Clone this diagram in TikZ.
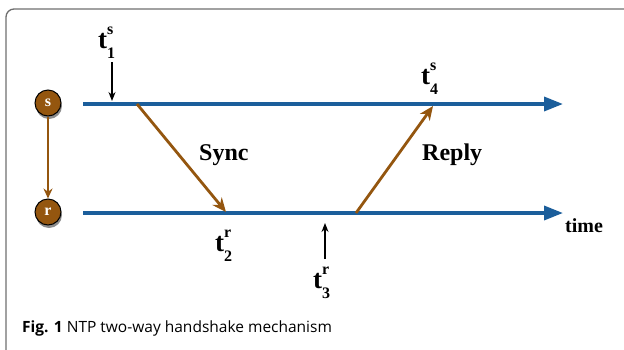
\documentclass[tikz,border=0pt]{standalone}
\usepackage{fontspec}
\setmainfont{Liberation Serif}
\newfontfamily\capfont{Open Sans}
\usetikzlibrary{arrows.meta,shadows}
\definecolor{tblue}{HTML}{1B5E9B}
\definecolor{tbrown}{HTML}{94560F}
\definecolor{framegray}{HTML}{6E6E6E}
\newcommand{\tlab}[2]{\fontsize{27}{27}\selectfont\textbf{t}\makebox[0pt][l]{\raisebox{0.50em}{\fontsize{16}{16}\selectfont\textbf{#1}}}\raisebox{-0.38em}{\fontsize{16}{16}\selectfont\textbf{#2}}}
\tikzset{
  timeline/.style={tblue, line width=3.5pt, -{Triangle[length=19pt,width=14pt]}},
  msg/.style={tbrown, line width=2.8pt, -{Stealth[length=14pt,width=12pt]}},
  tickarrow/.style={black, line width=1.4pt, -{Stealth[length=9pt,width=7pt]}},
  host/.style={circle, draw=black, line width=1pt, fill=tbrown, minimum size=26pt, inner sep=0pt,
    text=white, font=\fontsize{16}{16}\selectfont\bfseries,
    drop shadow={shadow xshift=1pt, shadow yshift=-3pt, opacity=0.45, fill=black}},
  tl/.style={anchor=base west, inner sep=0pt},
  lbl/.style={font=\fontsize{24}{24}\selectfont\bfseries, inner sep=0pt},
}
\begin{document}
\begin{tikzpicture}[x=1pt,y=-1pt]
\useasboundingbox (0,0) rectangle (624,349);
\begin{scope}
\clip (0,0) rectangle (624,349);
\draw[framegray, line width=1.3pt, rounded corners=8pt] (6,9) rectangle (660,380);
\end{scope}
% hosts
\node[host] (s) at (48,103) {s};
\node[host] (r) at (48,212) {r};
\draw[tbrown, line width=2.2pt, -{Stealth[length=10pt,width=9pt]}] (s) -- (r);
% time lines
\coordinate (sA) at (83,104);
\coordinate (sB) at (563,104);
\coordinate (rA) at (83,213);
\coordinate (rB) at (563,213);
\draw[timeline] (sA) -- (sB);
\draw[timeline] (rA) -- (rB);
\node[anchor=base west, inner sep=0pt, font=\fontsize{20}{20}\selectfont\bfseries] (time) at (565,232) {time};
% event points
\coordinate (e1) at (112,101);
\coordinate (e1top) at (112,62);
\coordinate (syncS) at (137,104);
\coordinate (syncR) at (226,212);
\coordinate (repR) at (356,213);
\coordinate (repS) at (433,106);
\coordinate (e3) at (325,223);
\coordinate (e3bot) at (325,259);
\draw[msg] (syncS) -- (syncR);
\draw[msg] (repR) -- (repS);
\draw[tickarrow] (e1top) -- (e1);
\draw[tickarrow] (e3bot) -- (e3);
% labels
\node[tl] (t1) at (98,48) {\tlab{s}{1}};
\node[tl] (t2) at (215,251) {\tlab{r}{2}};
\node[tl] (t3) at (313,288) {\tlab{r}{3}};
\node[tl] (t4) at (421,84) {\tlab{s}{4}};
\node[lbl, anchor=base west] (sync) at (199,160) {Sync};
\node[lbl, anchor=base west] (reply) at (422,160) {Reply};
% caption
\node[anchor=base west, inner sep=0pt, font=\capfont\fontsize{15.5}{15.5}\selectfont] (cap) at (22,332) {\textbf{Fig. 1} NTP two-way handshake mechanism};
\end{tikzpicture}
\end{document}
